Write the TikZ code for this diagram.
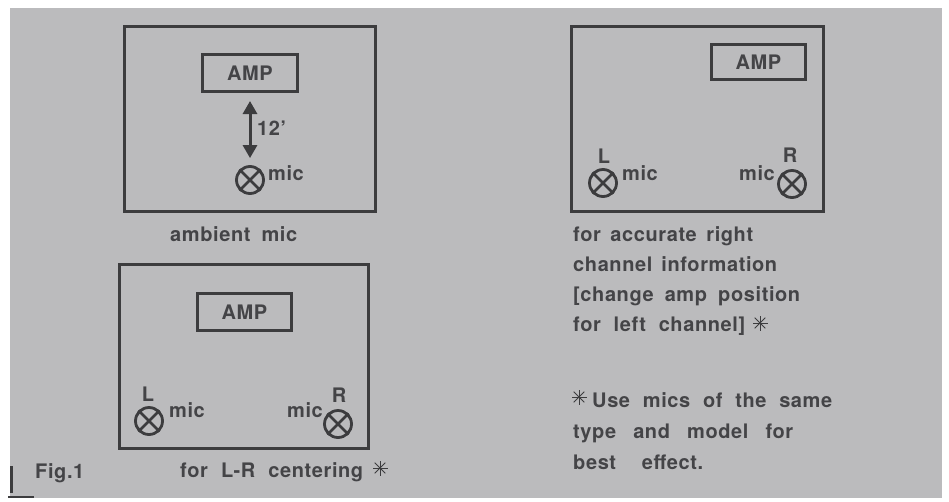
\documentclass[tikz,border=0pt]{standalone}
\usepackage{fontspec}
\setmainfont{TeX Gyre Heros}[LetterSpace=3]
\usetikzlibrary{arrows.meta}
\definecolor{bg}{RGB}{187,187,189}
\definecolor{ink}{RGB}{60,60,62}
\definecolor{txt}{RGB}{68,68,71}
\newcommand{\fitline}[2]{\makebox[#1pt][s]{#2}}
\tikzset{
  box/.style={draw=ink, line width=3pt, inner sep=0pt, rectangle},
  amp/.style={box, font=\fontsize{20}{24}\selectfont\bfseries, text=txt},
  micsym/.style={circle, draw=ink, line width=2.8pt, minimum size=27pt, inner sep=0pt},
  micx/.style={draw=ink, line width=2.8pt},
  lbl/.style={inner sep=0pt, font=\fontsize{20}{24}\selectfont\bfseries, text=txt},
  dimarrow/.style={draw=ink, line width=3pt, {Triangle[width=14pt,length=13pt]}-{Triangle[width=14pt,length=13pt]}},
  astline/.style={draw=ink, line width=0.9pt}
}
\begin{document}
\begin{tikzpicture}[x=1pt,y=-1pt]
\useasboundingbox (0,0) rectangle (949,501);
\fill[white] (0,0) rectangle (949,501);
\fill[bg] (10,8) rectangle (942,498);
% crop mark
\draw[ink, line width=2.5pt] (11.5,466) -- (11.5,493);
\draw[ink, line width=1.2pt] (8,497) -- (34,497);

% rooms
\node[box, minimum width=251pt, minimum height=185pt] (room1) at (250,119) {};
\node[box, minimum width=252pt, minimum height=185pt] (room2) at (697.5,119) {};
\node[box, minimum width=249pt, minimum height=184pt] (room3) at (244,356.5) {};

% amps
\node[amp, minimum width=95pt, minimum height=37pt] (amp1) at (250,73) {AMP};
\node[amp, minimum width=94pt, minimum height=35pt] (amp2) at (758.5,62) {AMP};
\node[amp, minimum width=94pt, minimum height=37pt] (amp3) at (244.5,312) {AMP};

% mics
\node[micsym] (mic1) at (250,180) {};
\node[micsym] (mic2L) at (603,183) {};
\node[micsym] (mic2R) at (792,184) {};
\node[micsym] (mic3L) at (149,421) {};
\node[micsym] (mic3R) at (338,424) {};
\foreach \m in {mic1,mic2L,mic2R,mic3L,mic3R}
  \draw[micx] (\m.45) -- (\m.225) (\m.135) -- (\m.315);

% distance arrow
\draw[dimarrow, shorten <=8pt, shorten >=7pt] (amp1.south) -- (mic1.north);
\node[lbl, anchor=base west] (dist) at (257,135) {12'};

% mic labels
\node[lbl, anchor=base west] (m1t) at (268,180) {mic};
\node[lbl, anchor=base] (l2) at (604,163) {L};
\node[lbl, anchor=base west] (m2lt) at (622,180) {mic};
\node[lbl, anchor=base] (r2) at (790,162) {R};
\node[lbl, anchor=base east] (m2rt) at (775,180) {mic};
\node[lbl, anchor=base] (l3) at (148,401) {L};
\node[lbl, anchor=base west] (m3lt) at (169,417) {mic};
\node[lbl, anchor=base] (r3) at (339,402) {R};
\node[lbl, anchor=base east] (m3rt) at (323,417) {mic};

% captions
\node[lbl, anchor=base west] (cap1) at (170,241) {\fitline{127}{ambient mic}};
\node[lbl, anchor=base west] (cap3) at (180,477) {\fitline{183}{for L-R centering}};
\node[lbl, anchor=base west] (fig) at (35,478) {Fig.1};

\node[lbl, anchor=base west] (t1) at (573,241) {\fitline{180}{for accurate right}};
\node[lbl, anchor=base west] (t2) at (573,271) {\fitline{204}{channel information}};
\node[lbl, anchor=base west] (t3) at (573,301) {\fitline{227}{[change amp position}};
\node[lbl, anchor=base west] (t4) at (573,331) {\fitline{172}{for left channel]}};

\node[lbl, anchor=base west] (n1) at (592,407) {\fitline{240}{Use mics of the same}};
\node[lbl, anchor=base west] (n2) at (573,438) {\fitline{220}{type and model for}};
\node[lbl, anchor=base west] (n3) at (573,469) {\fitline{130}{best effect.}};

% asterisks
\coordinate (ast1) at (380,468);
\coordinate (ast2) at (760,323);
\coordinate (ast3) at (579,397);
\foreach \c in {ast1,ast2,ast3}
  \foreach \a in {0,45,90,135}
    \draw[astline] (\c) ++(\a:7.5) -- ++(\a+180:15);
\end{tikzpicture}
\end{document}
